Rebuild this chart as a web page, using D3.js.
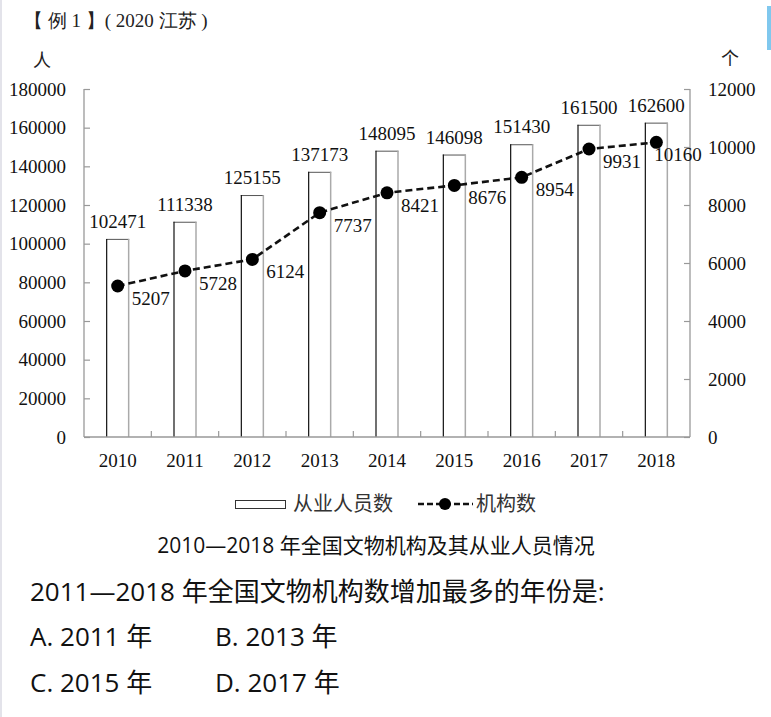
<!DOCTYPE html>
<html><head><meta charset="utf-8">
<script src="https://cdn.jsdelivr.net/npm/d3@7"></script>
<style>
html,body{margin:0;padding:0;background:#fff;}
svg{display:block;}
</style></head>
<body>
<svg id="c" width="771" height="717"></svg>
<script>
const years = ["2010","2011","2012","2013","2014","2015","2016","2017","2018"];
const staff = [102471,111338,125155,137173,148095,146098,151430,161500,162600];
const institutions = [5207,5728,6124,7737,8421,8676,8954,9931,10160];
const leftTicks = [0,20000,40000,60000,80000,100000,120000,140000,160000,180000];
const rightTicks = [0,2000,4000,6000,8000,10000,12000];

const svg = d3.select("#c");
const serif = "'Liberation Serif','DejaVu Serif',serif";
const sans = "'Noto Sans CJK SC','Noto Sans',sans-serif";
const qfont = "'Open Sans','Noto Sans CJK SC',sans-serif";

// page decorations
svg.append("rect").attr("x",0).attr("y",0).attr("width",2).attr("height",717).attr("fill","#e3e3ea");
svg.append("rect").attr("x",767).attr("y",6).attr("width",4).attr("height",44).attr("fill","#80c8ee");

const L = 84, R = 690, T = 89, B = 437;
const x = d3.scaleBand().domain(years).range([L,R]).paddingInner(0).paddingOuter(0);
const yL = d3.scaleLinear().domain([0,180000]).range([B,T]);
const yR = d3.scaleLinear().domain([0,12000]).range([B,T]);

// header
svg.append("text").attr("x",24).attr("y",27).attr("font-family",serif).attr("font-size",19).attr("fill","#222")
  .text("【 例 1 】( 2020 江苏 )");

// unit labels
svg.append("text").attr("x",42).attr("y",67).attr("text-anchor","middle").attr("font-family",sans).attr("font-size",18).attr("fill","#222").text("人");
svg.append("text").attr("x",730).attr("y",65).attr("text-anchor","middle").attr("font-family",sans).attr("font-size",18).attr("fill","#222").text("个");

// bars
const bw = 23;
const bars = svg.append("g");
years.forEach((yr,i)=>{
  const cx = x(yr)+x.bandwidth()/2;
  const x0 = cx-bw/2, x1 = cx+bw/2, yt = yL(staff[i]);
  bars.append("rect").attr("x",x0).attr("y",yt).attr("width",bw).attr("height",B-yt).attr("fill","#fff");
  bars.append("line").attr("x1",x0).attr("x2",x1).attr("y1",yt+0.5).attr("y2",yt+0.5).attr("stroke","#555").attr("stroke-width",1);
  bars.append("line").attr("x1",x0+0.5).attr("x2",x0+0.5).attr("y1",yt).attr("y2",B).attr("stroke","#111").attr("stroke-width",1.2);
  bars.append("line").attr("x1",x1-0.5).attr("x2",x1-0.5).attr("y1",yt).attr("y2",B).attr("stroke","#aaa").attr("stroke-width",1.5);
  bars.append("text").attr("x",cx).attr("y",yt-11).attr("text-anchor","middle")
    .attr("font-family",serif).attr("font-size",19).attr("fill","#111").text(staff[i]);
});

// axes
const axisColor = "#999";
const gl = svg.append("g").attr("transform",`translate(${L},0)`)
  .call(d3.axisLeft(yL).tickValues(leftTicks).tickSize(-6).tickPadding(18).tickFormat(d3.format("d")));
const gr = svg.append("g").attr("transform",`translate(${R},0)`)
  .call(d3.axisRight(yR).tickValues(rightTicks).tickSize(-6).tickPadding(18).tickFormat(d3.format("d")));
const gb = svg.append("g").attr("transform",`translate(0,${B})`)
  .call(d3.axisBottom(x).tickSize(0).tickPadding(17));
[gl,gr,gb].forEach(g=>{
  g.select(".domain").attr("stroke",axisColor).attr("stroke-width",1.3);
  g.selectAll(".tick line").attr("stroke",axisColor).attr("stroke-width",1.2);
  g.selectAll("text").attr("font-family",serif).attr("font-size",19).attr("fill","#111");
});
gl.select(".domain").attr("d",`M0,${B}V${T}`);
gr.select(".domain").attr("d",`M0,${B}V${T}`);
gb.select(".domain").attr("d",`M${L},0H${R}`);
gb.selectAll("text").attr("dy","0.71em");
// category separator ticks on bottom axis
svg.append("g").selectAll("line").data(years.slice(1)).join("line")
  .attr("x1",d=>x(d)).attr("x2",d=>x(d)).attr("y1",B).attr("y2",B-6)
  .attr("stroke",axisColor).attr("stroke-width",1.2);

// line series
const pts = years.map((yr,i)=>[x(yr)+x.bandwidth()/2, yR(institutions[i])]);
svg.append("path").attr("d",d3.line()(pts)).attr("fill","none").attr("stroke","#111")
  .attr("stroke-width",2.6).attr("stroke-dasharray","7,4");
svg.append("g").selectAll("circle").data(pts).join("circle")
  .attr("cx",d=>d[0]).attr("cy",d=>d[1]).attr("r",6.5).attr("fill","#000");
svg.append("g").selectAll("text").data(pts).join("text")
  .attr("x",(d,i)=> i===pts.length-1 ? d[0]-2 : d[0]+14)
  .attr("y",(d,i)=> d[1]+19)
  .attr("font-family",serif).attr("font-size",19).attr("fill","#111")
  .text((d,i)=>institutions[i]);

// legend
svg.append("rect").attr("x",235.5).attr("y",500.5).attr("width",50).attr("height",8)
  .attr("fill","#fff").attr("stroke","#333").attr("stroke-width",1);
svg.append("text").attr("x",293).attr("y",511).attr("font-family",sans).attr("font-size",20).attr("fill","#333").text("从业人员数");
svg.append("line").attr("x1",418).attr("x2",473).attr("y1",504).attr("y2",504).attr("stroke","#111").attr("stroke-width",2.6).attr("stroke-dasharray","6,3");
svg.append("circle").attr("cx",445).attr("cy",504).attr("r",6).attr("fill","#000");
svg.append("text").attr("x",476).attr("y",511).attr("font-family",sans).attr("font-size",20).attr("fill","#333").text("机构数");

// title
svg.append("text").attr("x",376).attr("y",553).attr("text-anchor","middle").attr("font-family",qfont)
  .attr("font-size",21).attr("font-weight",400).attr("fill","#111").text("2010—2018 年全国文物机构及其从业人员情况");

// question
const q = svg.append("g").attr("font-family",qfont).attr("font-size",26).attr("fill","#111");
q.append("text").attr("x",30).attr("y",601).text("2011—2018 年全国文物机构数增加最多的年份是:");
q.append("text").attr("x",30).attr("y",646).text("A. 2011 年");
q.append("text").attr("x",215).attr("y",646).text("B. 2013 年");
q.append("text").attr("x",30).attr("y",692).text("C. 2015 年");
q.append("text").attr("x",215).attr("y",692).text("D. 2017 年");
</script>
</body></html>
